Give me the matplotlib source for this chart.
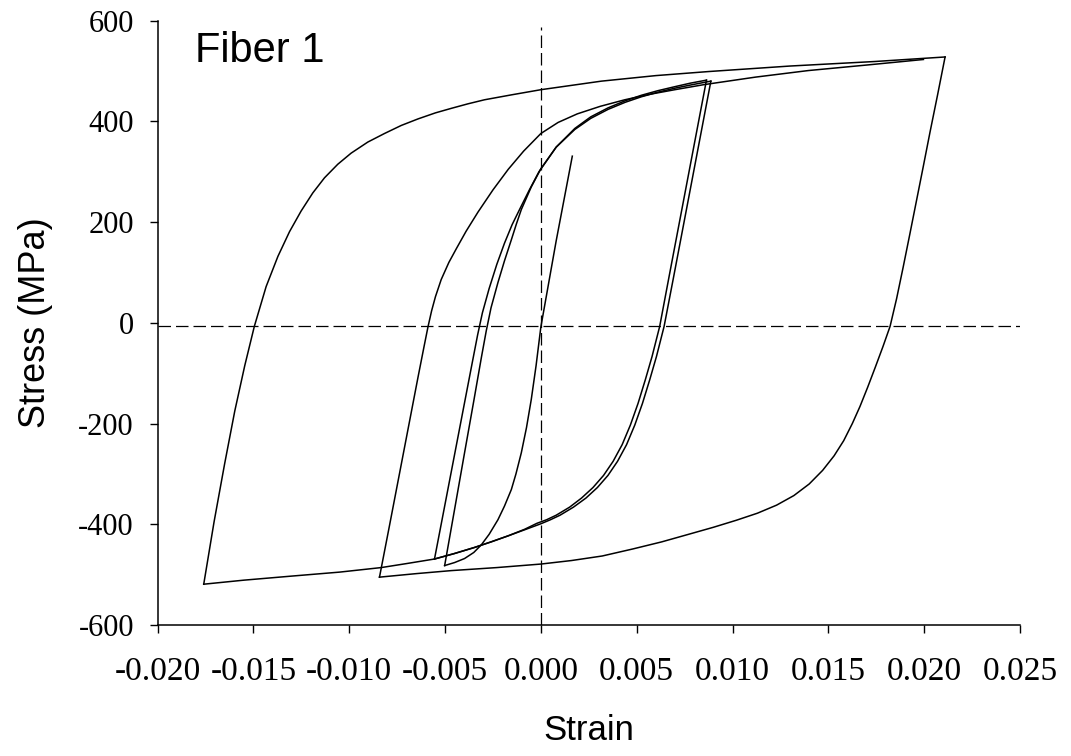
import matplotlib
matplotlib.use("Agg")
import matplotlib.pyplot as plt
from matplotlib.ticker import FixedLocator, FormatStrFormatter

plt.rcParams['axes.unicode_minus'] = False

# ---- data (strain, stress in MPa) ----
# initial elastic loading and first reversal into compression
b0_strain = [0.00164, 0.0008, 0.0, -0.00025, -0.0005, -0.00075, -0.00102, -0.0013, -0.00154, -0.0019, -0.00224,
             -0.0027, -0.00311, -0.0035, -0.00398, -0.0045, -0.00502]
b0_stress = [331, 163, -8, -85, -152, -208, -258, -300, -331, -364, -391,
             -420, -441, -456, -468, -476, -482]

# first reloading to the small-loop peak
b1_strain = [-0.00502, -0.0045, -0.0040, -0.0035, -0.0031, -0.00285, -0.0026, -0.00224, -0.0019, -0.00154, -0.00128,
             -0.00102, -0.0005, 0.0, 0.0008, 0.00177, 0.0026, 0.00351, 0.0044, 0.00525, 0.0061, 0.00699, 0.0079, 0.00887]
b1_stress = [-482, -370, -262, -155, -68, -16, 30, 80, 123, 165, 196,
             225, 270, 306, 349, 384, 406, 424, 438, 449, 458, 466, 473, 480]

# first unloading from the small-loop peak
b2_strain = [0.00887, 0.00838, 0.00789, 0.0074, 0.00691, 0.00643, 0.00603, 0.00568, 0.0053, 0.0049, 0.00447, 0.0040,
             0.0035, 0.00295, 0.00235, 0.0017, 0.0010, 0.0005, 0.0, -0.00085, -0.00171, -0.0026, -0.00346, -0.0045, -0.00555]
b2_stress = [480, 382, 284, 186, 88, -7, -67, -113, -160, -203, -242, -275,
             -303, -327, -348, -366, -382, -391, -399, -411, -423, -435, -446, -458, -469]

# second reloading to the small-loop peak
b3_strain = [-0.00555, -0.00505, -0.00455, -0.00405, -0.0036, -0.0033, -0.00305, -0.0027, -0.0023, -0.0019, -0.0015,
             -0.0011, -0.0006, -0.0001, 0.0008, 0.00177, 0.0026, 0.00351, 0.0044, 0.00525, 0.0061, 0.00699, 0.0078, 0.00864]
b3_stress = [-469, -370, -271, -172, -83, -24, 20, 68, 116, 158, 195,
             226, 264, 300, 349, 386, 409, 427, 441, 452, 461, 469, 476, 482]

# second unloading, continuing to the large compressive strain
b4_strain = [0.00864, 0.00815, 0.00766, 0.00717, 0.00668, 0.0062, 0.0058, 0.00545, 0.00507, 0.00467, 0.00424, 0.00377,
             0.00327, 0.00272, 0.00212, 0.0015, 0.0008, 0.0003, -0.0002, -0.00085, -0.00171, -0.0026, -0.00346, -0.0045,
             -0.00555, -0.0070, -0.00833, -0.0105, -0.01303, -0.0155, -0.01759]
b4_stress = [482, 384, 286, 188, 90, -7, -67, -113, -160, -203, -242, -275,
             -303, -327, -348, -366, -382, -391, -398, -410, -423, -435, -446, -458,
             -469, -478, -486, -495, -503, -511, -519]

# large loop: reloading
b5_strain = [-0.01759, -0.01705, -0.0165, -0.01597, -0.01545, -0.01495, -0.014335, -0.01372, -0.013115, -0.01251,
             -0.0119, -0.01129, -0.010595, -0.0099, -0.00903, -0.00816, -0.007285, -0.00641, -0.0055, -0.00467,
             -0.0038, -0.00294, -0.0015, 0.0, 0.00316, 0.0060, 0.00873, 0.0130, 0.01743, 0.02109]
b5_stress = [-519, -395, -280, -175, -85, -7, 72, 132, 181, 222,
             258, 288, 315, 337, 359, 376, 392, 405, 417, 426,
             435, 443, 453, 463, 480, 491, 499, 510, 519, 528]

# large loop: unloading
b6_strain = [0.02109, 0.0207, 0.0203, 0.01995, 0.0196, 0.01925, 0.0189, 0.01856, 0.01822, 0.01785, 0.01745, 0.01705,
             0.01665, 0.01625, 0.0158, 0.0153, 0.0147, 0.0140, 0.0132, 0.0123, 0.0113, 0.0102, 0.0090, 0.0077, 0.0063,
             0.0048, 0.0032, 0.0016, 0.0, -0.0023, -0.00467, -0.0065, -0.00842]
b6_stress = [528, 453, 378, 310, 243, 176, 110, 48, -7, -47, -88, -128,
             -166, -200, -234, -264, -293, -320, -343, -362, -378, -392, -406, -420, -435,
             -449, -463, -472, -479, -486, -492, -498, -505]

# final reloading
b7_strain = [-0.00842, -0.0079, -0.0074, -0.0069, -0.0064, -0.0061, -0.00589, -0.0057, -0.0055, -0.0052, -0.0048,
             -0.0044, -0.0039, -0.00328, -0.0025, -0.0017, -0.0009, 0.0, 0.0009, 0.0019, 0.0031, 0.00438, 0.0057,
             0.00699, 0.0085, 0.0112, 0.01395, 0.0170, 0.01996]
b7_stress = [-505, -403, -304, -205, -106, -48, -8, 24, 52, 86, 120,
             148, 182, 220, 264, 305, 341, 376, 398, 415, 430, 443, 454,
             463, 473, 488, 501, 512, 523]

branches = [(b0_strain, b0_stress), (b1_strain, b1_stress), (b2_strain, b2_stress),
            (b3_strain, b3_stress), (b4_strain, b4_stress), (b5_strain, b5_stress),
            (b6_strain, b6_stress), (b7_strain, b7_stress)]

x_ticks = [-0.020, -0.015, -0.010, -0.005, 0.000, 0.005, 0.010, 0.015, 0.020, 0.025]
y_ticks = [-600, -400, -200, 0, 200, 400, 600]
zero_stress_line = -6

# ---- figure ----
fig = plt.figure(figsize=(10.71, 7.56), dpi=100)
ax = fig.add_axes([0.1471, 0.1733, 0.8053, 0.7993])

for s, t in branches:
    ax.plot(s, t, color='black', lw=1.1, solid_joinstyle='round')

ax.axhline(zero_stress_line, color='black', lw=0.9, linestyle=(0, (10, 4)))
ax.axvline(0.0, ymax=0.99, color='black', lw=0.9, linestyle=(0, (10, 4)))

ax.set_xlim(-0.020, 0.025)
ax.set_ylim(-600, 600)
ax.xaxis.set_major_locator(FixedLocator(x_ticks))
ax.yaxis.set_major_locator(FixedLocator(y_ticks))
ax.xaxis.set_major_formatter(FormatStrFormatter('%.3f'))
ax.yaxis.set_major_formatter(FormatStrFormatter('%d'))

for side in ('top', 'right'):
    ax.spines[side].set_visible(False)
for side in ('left', 'bottom'):
    ax.spines[side].set_linewidth(1.1)

ax.tick_params(axis='both', direction='out', length=6, width=1.0, colors='black')
ax.tick_params(axis='x', pad=17, labelsize=24, labelfontfamily='Liberation Serif')
ax.tick_params(axis='y', pad=11, labelsize=22, labelfontfamily='Liberation Serif')

ax.set_xlabel('Strain', fontfamily='Liberation Sans', fontsize=25)
ax.set_ylabel('Stress (MPa)', fontfamily='Liberation Sans', fontsize=26)
ax.xaxis.label.set_va('center')
ax.yaxis.label.set_va('center')
ax.xaxis.set_label_coords(0.5, -0.1754)
ax.yaxis.set_label_coords(-0.142, 0.5)

ax.text(0.0435, 0.932, 'Fiber 1', transform=ax.transAxes, fontfamily='Liberation Sans',
        fontsize=30, ha='left', va='baseline')

fig.savefig('out.png', dpi=100)
